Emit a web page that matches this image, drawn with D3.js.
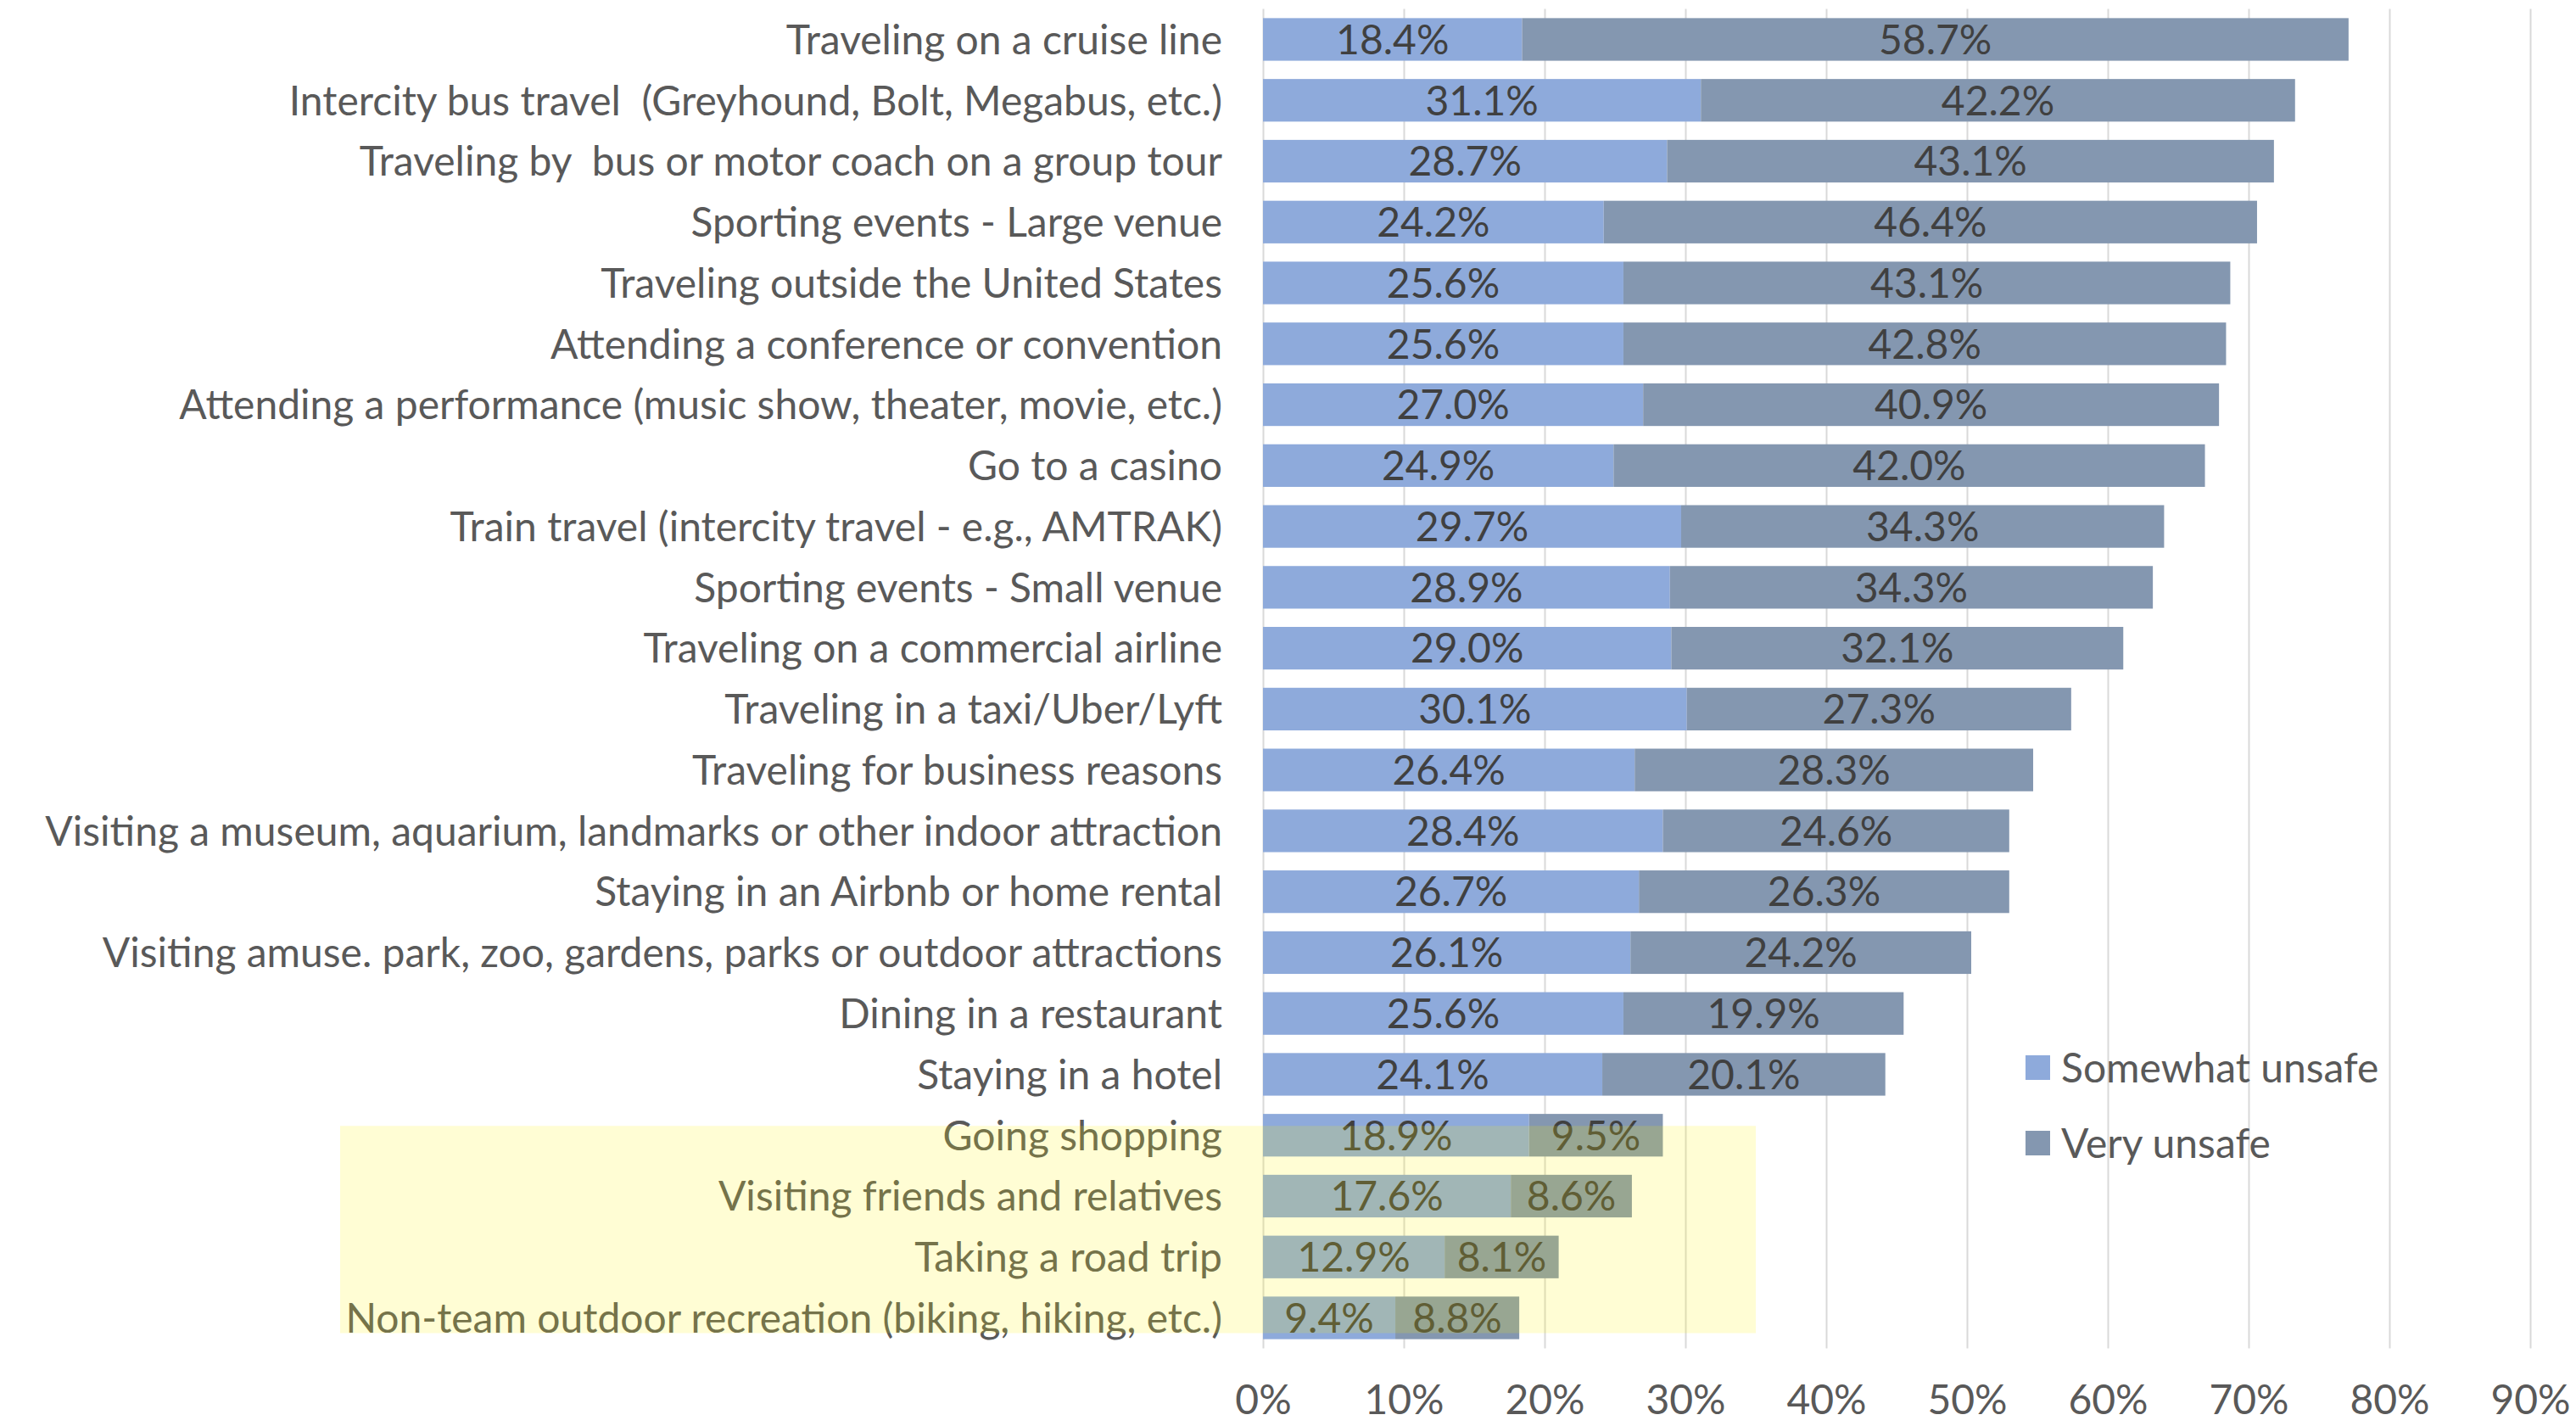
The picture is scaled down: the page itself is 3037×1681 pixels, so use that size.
<!DOCTYPE html>
<html>
<head>
  <meta charset="utf-8">
  <script src="https://d3js.org/d3.v7.min.js"></script>
  <style>
    body { margin: 0; background: #fff; }
    svg { display: block; }
    text { font-family: Lato, "Open Sans", sans-serif; fill: #595959; }
    .cat { white-space: pre; }
  </style>
</head>
<body>
<script>
  // chart data, top row first
  var categories = [
    "Traveling on a cruise line",
    "Intercity bus travel  (Greyhound, Bolt, Megabus, etc.)",
    "Traveling by  bus or motor coach on a group tour",
    "Sporting events - Large venue",
    "Traveling outside the United States",
    "Attending a conference or convention",
    "Attending a performance (music show, theater, movie, etc.)",
    "Go to a casino",
    "Train travel (intercity travel - e.g., AMTRAK)",
    "Sporting events - Small venue",
    "Traveling on a commercial airline",
    "Traveling in a taxi/Uber/Lyft",
    "Traveling for business reasons",
    "Visiting a museum, aquarium, landmarks or other indoor attraction",
    "Staying in an Airbnb or home rental",
    "Visiting amuse. park, zoo, gardens, parks or outdoor attractions",
    "Dining in a restaurant",
    "Staying in a hotel",
    "Going shopping",
    "Visiting friends and relatives",
    "Taking a road trip",
    "Non-team outdoor recreation (biking, hiking, etc.)"
  ];
  var somewhatUnsafe = [18.4, 31.1, 28.7, 24.2, 25.6, 25.6, 27.0, 24.9, 29.7, 28.9, 29.0,
                        30.1, 26.4, 28.4, 26.7, 26.1, 25.6, 24.1, 18.9, 17.6, 12.9, 9.4];
  var veryUnsafe = [58.7, 42.2, 43.1, 46.4, 43.1, 42.8, 40.9, 42.0, 34.3, 34.3, 32.1,
                    27.3, 28.3, 24.6, 26.3, 24.2, 19.9, 20.1, 9.5, 8.6, 8.1, 8.8];
  var seriesNames = ["Somewhat unsafe", "Very unsafe"];
  var xTicks = [0, 10, 20, 30, 40, 50, 60, 70, 80, 90];
  var highlighted = ["Going shopping", "Visiting friends and relatives",
                     "Taking a road trip", "Non-team outdoor recreation (biking, hiking, etc.)"];

  var W = 3037, H = 1681;
  var colors = ["#8eaadb", "#8497b0"];
  var fs = 48;

  var svg = d3.select("body").append("svg")
    .attr("width", W).attr("height", H);

  var x = d3.scaleLinear().domain([0, 90]).range([1489, 2983]);
  var y = d3.scaleBand().domain(categories).range([10.6, 1589.4])
    .paddingInner(0.3).paddingOuter(0.15);

  var rows = categories.map(function(c, i) {
    return { cat: c, a: somewhatUnsafe[i], b: veryUnsafe[i] };
  });

  // gridlines
  svg.append("g")
    .attr("transform", "translate(0,1589.4)")
    .call(d3.axisBottom(x).tickValues(xTicks).tickSize(-1579).tickFormat(""))
    .call(function(g) {
      g.select(".domain").remove();
      g.selectAll("line").attr("stroke", "#d9d9d9").attr("stroke-width", 2);
    });

  // bars
  var rowG = svg.append("g").selectAll("g").data(rows).enter().append("g");

  rowG.append("rect")
    .attr("x", x(0))
    .attr("y", function(d) { return y(d.cat); })
    .attr("width", function(d) { return x(d.a) - x(0); })
    .attr("height", y.bandwidth())
    .attr("fill", colors[0]);

  rowG.append("rect")
    .attr("x", function(d) { return x(d.a); })
    .attr("y", function(d) { return y(d.cat); })
    .attr("width", function(d) { return x(d.a + d.b) - x(d.a); })
    .attr("height", y.bandwidth())
    .attr("fill", colors[1]);

  var fmt = function(v) { return d3.format(".1f")(v) + "%"; };

  rowG.append("text")
    .attr("x", function(d) { return x(d.a / 2); })
    .attr("y", function(d) { return y(d.cat) + y.bandwidth() / 2; })
    .attr("dy", "0.36em")
    .attr("text-anchor", "middle")
    .attr("font-size", fs)
    .style("fill", "#404040")
    .text(function(d) { return fmt(d.a); });

  rowG.append("text")
    .attr("x", function(d) { return x(d.a + d.b / 2); })
    .attr("y", function(d) { return y(d.cat) + y.bandwidth() / 2; })
    .attr("dy", "0.36em")
    .attr("text-anchor", "middle")
    .attr("font-size", fs)
    .style("fill", "#404040")
    .text(function(d) { return fmt(d.b); });

  // category labels
  var yAxis = svg.append("g")
    .attr("transform", "translate(" + x(0) + ",0)")
    .call(d3.axisLeft(y).tickSize(0).tickPadding(48));
  yAxis.select(".domain").remove();
  yAxis.selectAll("text")
    .attr("class", "cat")
    .attr("font-size", fs)
    .attr("font-family", null)
    .attr("dy", "0.36em");

  // x tick labels
  var xAxis = svg.append("g")
    .attr("transform", "translate(0,1589.4)")
    .call(d3.axisBottom(x).tickValues(xTicks).tickSize(0).tickPadding(44)
      .tickFormat(function(d) { return d + "%"; }));
  xAxis.select(".domain").remove();
  xAxis.selectAll("text").attr("font-size", fs).attr("font-family", null);

  // legend
  var legend = svg.append("g").selectAll("g").data(seriesNames).enter().append("g")
    .attr("transform", function(d, i) { return "translate(2388," + (1244 + i * 89) + ")"; });
  legend.append("rect").attr("width", 29).attr("height", 29)
    .attr("fill", function(d, i) { return colors[i]; });
  legend.append("text").attr("x", 42).attr("y", 15).attr("dy", "0.36em")
    .attr("font-size", fs).text(function(d) { return d; });

  // yellow highlight over the last rows
  var hTop = y(highlighted[0]) + y.bandwidth() / 2 - 11;
  var hBot = y(highlighted[highlighted.length - 1]) + y.bandwidth() / 2 + 18;
  svg.append("rect")
    .attr("x", 401).attr("y", hTop)
    .attr("width", 2070 - 401).attr("height", hBot - hTop)
    .attr("fill", "rgb(255,245,0)")
    .attr("fill-opacity", 0.17);
</script>
</body>
</html>
